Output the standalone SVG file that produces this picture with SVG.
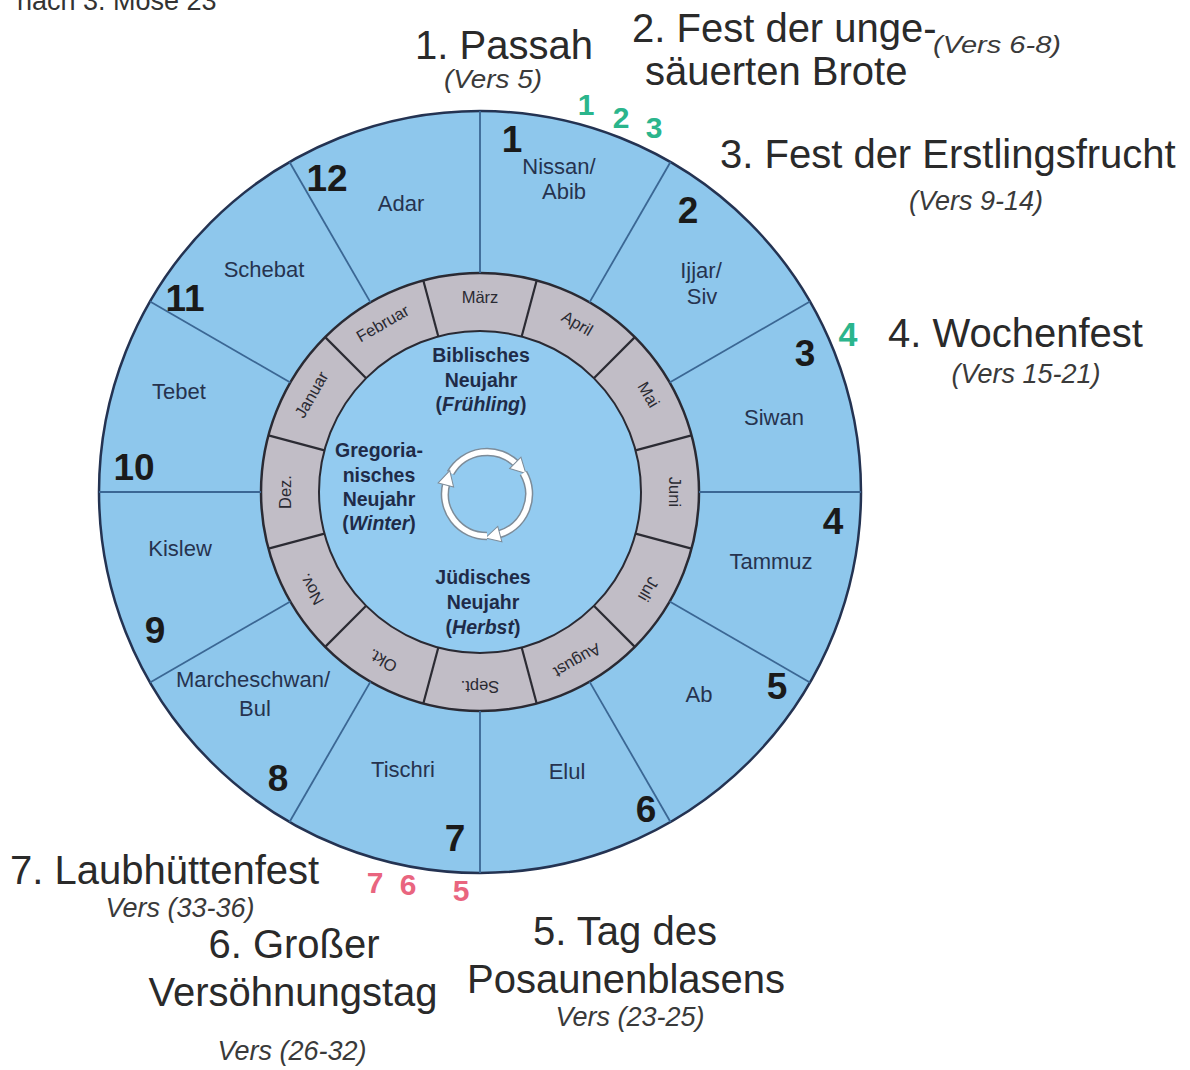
<svg xmlns="http://www.w3.org/2000/svg" width="1190" height="1070" viewBox="0 0 1190 1070">
<defs>
<style>
text{font-family:"Liberation Sans",Arial,Helvetica,sans-serif;}
.big{font-size:40px;fill:#2a2a2a;}
.vers{font-size:27px;font-style:italic;fill:#3a3a3a;text-anchor:middle;}
.num{font-weight:bold;font-size:37px;fill:#1a1a1a;text-anchor:middle;}
.mon{font-size:22px;fill:#26334f;text-anchor:middle;}
.gm{font-size:16.5px;fill:#2a2a32;text-anchor:middle;}
.ctr{font-size:19.5px;font-weight:bold;fill:#1f2b48;text-anchor:middle;}
.grn{font-weight:bold;font-size:30px;fill:#2bb58c;text-anchor:middle;}
.pnk{font-weight:bold;font-size:30px;fill:#e9657f;text-anchor:middle;}
.div{stroke:#3b6794;stroke-width:1.8;}
.gdiv{stroke:#2b2b33;stroke-width:2.2;}
.arcu{fill:none;stroke:#7d8c99;stroke-width:8.5;}
.arcw{fill:none;stroke:#ffffff;stroke-width:5.5;marker-end:url(#ah);}
</style>
<marker id="ah" markerUnits="userSpaceOnUse" viewBox="-2 -10 20 20" refX="2" refY="0" markerWidth="20" markerHeight="20" orient="auto">
<path d="M0,-8 L15,0 L0,8 z" fill="#ffffff" stroke="#7d8c99" stroke-width="1"/>
</marker>
</defs>
<rect width="1190" height="1070" fill="#ffffff"/>
<text x="17" y="10" style="font-size:27px;fill:#333">nach 3. Mose 23</text>

<g id="wheel">
<circle cx="480" cy="492" r="381" fill="#8ec7ec" stroke="#243352" stroke-width="2.5"/>
<circle cx="480" cy="492" r="219" fill="#c1bdc6" stroke="#2a2a33" stroke-width="2.5"/>
<circle cx="480" cy="492" r="161" fill="#93cbf0" stroke="#2a2a33" stroke-width="2"/>
</g>

<g id="connectors">
<g class="div">
<line x1="480" y1="273" x2="480" y2="111"/>
<line x1="480" y1="273" x2="480" y2="111" transform="rotate(30 480 492)"/>
<line x1="480" y1="273" x2="480" y2="111" transform="rotate(60 480 492)"/>
<line x1="480" y1="273" x2="480" y2="111" transform="rotate(90 480 492)"/>
<line x1="480" y1="273" x2="480" y2="111" transform="rotate(120 480 492)"/>
<line x1="480" y1="273" x2="480" y2="111" transform="rotate(150 480 492)"/>
<line x1="480" y1="273" x2="480" y2="111" transform="rotate(180 480 492)"/>
<line x1="480" y1="273" x2="480" y2="111" transform="rotate(210 480 492)"/>
<line x1="480" y1="273" x2="480" y2="111" transform="rotate(240 480 492)"/>
<line x1="480" y1="273" x2="480" y2="111" transform="rotate(270 480 492)"/>
<line x1="480" y1="273" x2="480" y2="111" transform="rotate(300 480 492)"/>
<line x1="480" y1="273" x2="480" y2="111" transform="rotate(330 480 492)"/>
</g>
<g class="gdiv">
<line x1="480" y1="331" x2="480" y2="273" transform="rotate(15 480 492)"/>
<line x1="480" y1="331" x2="480" y2="273" transform="rotate(45 480 492)"/>
<line x1="480" y1="331" x2="480" y2="273" transform="rotate(75 480 492)"/>
<line x1="480" y1="331" x2="480" y2="273" transform="rotate(105 480 492)"/>
<line x1="480" y1="331" x2="480" y2="273" transform="rotate(135 480 492)"/>
<line x1="480" y1="331" x2="480" y2="273" transform="rotate(165 480 492)"/>
<line x1="480" y1="331" x2="480" y2="273" transform="rotate(195 480 492)"/>
<line x1="480" y1="331" x2="480" y2="273" transform="rotate(225 480 492)"/>
<line x1="480" y1="331" x2="480" y2="273" transform="rotate(255 480 492)"/>
<line x1="480" y1="331" x2="480" y2="273" transform="rotate(285 480 492)"/>
<line x1="480" y1="331" x2="480" y2="273" transform="rotate(315 480 492)"/>
<line x1="480" y1="331" x2="480" y2="273" transform="rotate(345 480 492)"/>
</g>
</g>

<g id="gregorian-months">
<text class="gm" x="480" y="303">März</text>
<text class="gm" x="480" y="303" transform="rotate(30 480 492)">April</text>
<text class="gm" x="480" y="303" transform="rotate(60 480 492)">Mai</text>
<text class="gm" x="480" y="303" transform="rotate(90 480 492)">Juni</text>
<text class="gm" x="480" y="303" transform="rotate(120 480 492)">Juli</text>
<text class="gm" x="480" y="303" transform="rotate(150 480 492)">August</text>
<text class="gm" x="480" y="303" transform="rotate(180 480 492)">Sept.</text>
<text class="gm" x="480" y="303" transform="rotate(210 480 492)">Okt.</text>
<text class="gm" x="480" y="303" transform="rotate(240 480 492)">Nov.</text>
<text class="gm" x="480" y="303" transform="rotate(270 480 492)">Dez.</text>
<text class="gm" x="480" y="303" transform="rotate(300 480 492)">Januar</text>
<text class="gm" x="480" y="303" transform="rotate(330 480 492)">Februar</text>
</g>

<g id="month-1"><text class="num" x="512" y="152">1</text><text class="mon" x="559" y="174">Nissan/</text><text class="mon" x="564" y="199">Abib</text></g>
<g id="month-2"><text class="num" x="688" y="223">2</text><text class="mon" x="701" y="278">Ijjar/</text><text class="mon" x="702" y="304">Siv</text></g>
<g id="month-3"><text class="num" x="805" y="366">3</text><text class="mon" x="774" y="425">Siwan</text></g>
<g id="month-4"><text class="num" x="833" y="534">4</text><text class="mon" x="771" y="569">Tammuz</text></g>
<g id="month-5"><text class="num" x="777" y="699">5</text><text class="mon" x="699" y="702">Ab</text></g>
<g id="month-6"><text class="num" x="646" y="822">6</text><text class="mon" x="567" y="779">Elul</text></g>
<g id="month-7"><text class="num" x="455" y="851">7</text><text class="mon" x="403" y="777">Tischri</text></g>
<g id="month-8"><text class="num" x="278" y="791">8</text><text class="mon" x="253" y="687">Marcheschwan/</text><text class="mon" x="255" y="716">Bul</text></g>
<g id="month-9"><text class="num" x="155" y="643">9</text><text class="mon" x="180" y="556">Kislew</text></g>
<g id="month-10"><text class="num" x="134" y="480">10</text><text class="mon" x="179" y="399">Tebet</text></g>
<g id="month-11"><text class="num" x="185" y="311">11</text><text class="mon" x="264" y="277">Schebat</text></g>
<g id="month-12"><text class="num" x="327" y="191">12</text><text class="mon" x="401" y="211">Adar</text></g>

<g id="center">
<text class="ctr" x="481" y="362">Biblisches</text>
<text class="ctr" x="481" y="387">Neujahr</text>
<text class="ctr" x="481" y="411">(<tspan font-style="italic">Frühling</tspan>)</text>
<text class="ctr" x="379" y="457">Gregoria-</text>
<text class="ctr" x="379" y="482">nisches</text>
<text class="ctr" x="379" y="506">Neujahr</text>
<text class="ctr" x="379" y="530">(<tspan font-style="italic">Winter</tspan>)</text>
<text class="ctr" x="483" y="584">Jüdisches</text>
<text class="ctr" x="483" y="609">Neujahr</text>
<text class="ctr" x="483" y="634">(<tspan font-style="italic">Herbst</tspan>)</text>
</g>

<g id="cycle">
<path class="arcu" d="M450.6,473 A42,42 0 0 1 516.7,464.3"/>
<path class="arcu" d="M523.4,473 A42,42 0 0 1 497.9,534.6"/>
<path class="arcu" d="M487,536 A42,42 0 0 1 446.4,483.1"/>
<path class="arcw" d="M450.6,473 A42,42 0 0 1 516.7,464.3"/>
<path class="arcw" d="M523.4,473 A42,42 0 0 1 497.9,534.6"/>
<path class="arcw" d="M487,536 A42,42 0 0 1 446.4,483.1"/>
</g>

<g id="feast-markers">
<text class="grn" x="586" y="115">1</text>
<text class="grn" x="621" y="128">2</text>
<text class="grn" x="654" y="138">3</text>
<text class="grn" x="848" y="346" style="font-size:34px">4</text>
<text class="pnk" x="375" y="893">7</text>
<text class="pnk" x="408" y="895">6</text>
<text class="pnk" x="461" y="901">5</text>
</g>

<g id="feast-1"><text class="big" x="415" y="59">1. Passah</text><text class="vers" x="493" y="88" textLength="98" lengthAdjust="spacingAndGlyphs" style="font-size:25px">(Vers 5)</text></g>
<g id="feast-2"><text class="big" x="632" y="42">2. Fest der unge-</text><text class="big" x="645" y="85">säuerten Brote</text><text class="vers" x="997" y="53" textLength="128" lengthAdjust="spacingAndGlyphs" style="font-size:24px">(Vers 6-8)</text></g>
<g id="feast-3"><text class="big" x="720" y="168">3. Fest der Erstlingsfrucht</text><text class="vers" x="976" y="210">(Vers 9-14)</text></g>
<g id="feast-4"><text class="big" x="888" y="347">4. Wochenfest</text><text class="vers" x="1026" y="383">(Vers 15-21)</text></g>
<g id="feast-5"><text class="big" x="625" y="945" text-anchor="middle">5. Tag des</text><text class="big" x="626" y="993" text-anchor="middle">Posaunenblasens</text><text class="vers" x="630" y="1026">Vers (23-25)</text></g>
<g id="feast-6"><text class="big" x="294" y="958" text-anchor="middle">6. Großer</text><text class="big" x="293" y="1006" text-anchor="middle">Versöhnungstag</text><text class="vers" x="292" y="1060">Vers (26-32)</text></g>
<g id="feast-7"><text class="big" x="10" y="884">7. Laubhüttenfest</text><text class="vers" x="180" y="917">Vers (33-36)</text></g>
</svg>
